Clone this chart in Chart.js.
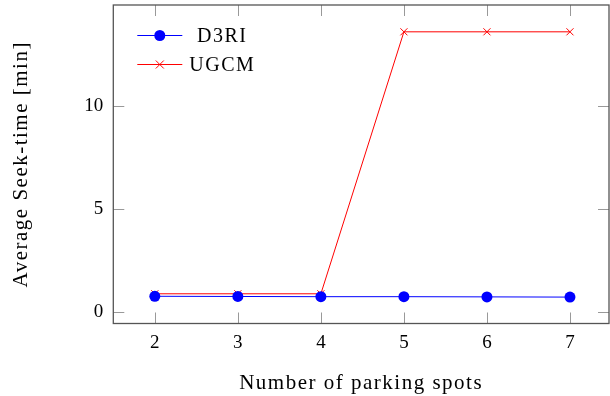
<!DOCTYPE html>
<html>
<head>
<meta charset="utf-8">
<script src="https://cdn.jsdelivr.net/npm/chart.js@4"></script>
<style>
html, body { margin: 0; padding: 0; background: #fff; overflow: hidden; }
#wrap { width: 610px; height: 396px; }
</style>
</head>
<body>
<div id="wrap"><canvas id="seekChart" width="610" height="396"></canvas></div>
<script>
var parkingSpots = [2, 3, 4, 5, 6, 7];
var d3riSeek = [0.78, 0.77, 0.76, 0.76, 0.75, 0.74];
var ugcmSeek = [0.9, 0.9, 0.9, 13.6, 13.6, 13.6];
var xTicks = [2, 3, 4, 5, 6, 7];
var yTicks = [0, 5, 10];
var xTitle = 'Number of parking spots';
var yTitle = 'Average Seek-time [min]';

var serif = "'Liberation Serif', 'DejaVu Serif', serif";

function toPoints(xs, ys) {
    return xs.map(function(x, i) { return { x: x, y: ys[i] }; });
}

// frame with inward ticks on all four sides, like pgfplots
var framePlugin = {
    id: 'frame',
    afterDatasetsDraw: function(chart) {
        var ctx = chart.ctx;
        var a = chart.chartArea;
        var xs = chart.scales.x;
        var ys = chart.scales.y;
        var len = 11;
        ctx.save();
        ctx.strokeStyle = '#999';
        ctx.lineWidth = 1;
        ctx.beginPath();
        xTicks.forEach(function(v) {
            var px = Math.round(xs.getPixelForValue(v)) + 0.5;
            ctx.moveTo(px, a.bottom); ctx.lineTo(px, a.bottom - len);
            ctx.moveTo(px, a.top); ctx.lineTo(px, a.top + len);
        });
        yTicks.forEach(function(v) {
            var py = Math.round(ys.getPixelForValue(v)) + 0.5;
            ctx.moveTo(a.left, py); ctx.lineTo(a.left + len, py);
            ctx.moveTo(a.right, py); ctx.lineTo(a.right - len, py);
        });
        ctx.stroke();
        ctx.strokeStyle = '#555';
        ctx.lineWidth = 1.3;
        ctx.strokeRect(a.left, a.top, a.right - a.left, a.bottom - a.top);
        ctx.restore();
    }
};

// axis titles, slightly letter-spaced to get close to the wider original serif
var titlesPlugin = {
    id: 'axisTitles',
    afterDraw: function(chart) {
        var ctx = chart.ctx;
        var a = chart.chartArea;
        ctx.save();
        ctx.font = '21px ' + serif;
        ctx.letterSpacing = '1.5px';
        ctx.fillStyle = '#000';
        ctx.textAlign = 'center';
        ctx.textBaseline = 'alphabetic';
        ctx.fillText(xTitle, (a.left + a.right) / 2, 389);
        ctx.translate(27, (a.top + a.bottom) / 2);
        ctx.rotate(-Math.PI / 2);
        ctx.fillText(yTitle, 0, 0);
        ctx.restore();
    }
};

// legend inside the plot, top left, text centred in its cell
var legendPlugin = {
    id: 'insideLegend',
    afterDraw: function(chart) {
        var ctx = chart.ctx;
        var a = chart.chartArea;
        var x0 = a.left + 24, x1 = a.left + 69, tx = a.left + 109;
        ctx.save();
        ctx.font = '20px ' + serif;
        ctx.letterSpacing = '1.5px';
        ctx.textAlign = 'center';
        ctx.textBaseline = 'alphabetic';
        chart.data.datasets.forEach(function(ds, i) {
            var y = a.top + 30 + i * 29;
            ctx.strokeStyle = ds.borderColor;
            ctx.lineWidth = 1;
            ctx.beginPath();
            ctx.moveTo(x0, y + 0.5); ctx.lineTo(x1, y + 0.5);
            ctx.stroke();
            var mx = (x0 + x1) / 2;
            if (ds.pointStyle === 'circle') {
                ctx.fillStyle = ds.pointBackgroundColor;
                ctx.beginPath();
                ctx.arc(mx, y + 0.5, ds.pointRadius, 0, Math.PI * 2);
                ctx.fill();
            } else {
                var r = 4;
                ctx.strokeStyle = ds.pointBorderColor;
                ctx.beginPath();
                ctx.moveTo(mx - r, y + 0.5 - r); ctx.lineTo(mx + r, y + 0.5 + r);
                ctx.moveTo(mx - r, y + 0.5 + r); ctx.lineTo(mx + r, y + 0.5 - r);
                ctx.stroke();
            }
            ctx.fillStyle = '#000';
            ctx.fillText(ds.label, tx, y + 7);
        });
        ctx.restore();
    }
};

new Chart(document.getElementById('seekChart'), {
    type: 'line',
    data: {
        datasets: [{
            label: 'D3RI',
            data: toPoints(parkingSpots, d3riSeek),
            borderColor: '#0000ff',
            backgroundColor: '#0000ff',
            borderWidth: 1,
            pointStyle: 'circle',
            pointRadius: 5.5,
            pointBackgroundColor: '#0000ff',
            pointBorderColor: '#0000ff',
            pointBorderWidth: 0,
            tension: 0
        }, {
            label: 'UGCM',
            data: toPoints(parkingSpots, ugcmSeek),
            borderColor: '#ff0000',
            backgroundColor: '#ff0000',
            borderWidth: 1,
            pointStyle: 'crossRot',
            pointRadius: 5,
            pointBorderColor: '#ff0000',
            pointBorderWidth: 1,
            tension: 0
        }]
    },
    options: {
        responsive: false,
        animation: false,
        layout: { autoPadding: false, padding: { top: 5, right: 1, left: 0, bottom: 0 } },
        plugins: { legend: { display: false }, tooltip: { enabled: false } },
        scales: {
            x: {
                type: 'linear',
                min: 1.5,
                max: 7.47,
                afterBuildTicks: function(s) { s.ticks = xTicks.map(function(v) { return { value: v }; }); },
                afterFit: function(s) { s.height = 72.5; s.paddingLeft = 0; s.paddingRight = 0; },
                grid: { display: false, drawTicks: false },
                border: { display: false },
                ticks: { color: '#000', padding: 8, font: { family: serif, size: 19 } }
            },
            y: {
                min: -0.54,
                max: 14.9,
                afterBuildTicks: function(s) { s.ticks = yTicks.map(function(v) { return { value: v }; }); },
                afterFit: function(s) { s.width = 113.3; s.paddingTop = 0; s.paddingBottom = 0; },
                grid: { display: false, drawTicks: false },
                border: { display: false },
                ticks: { color: '#000', padding: 10, font: { family: serif, size: 19 } }
            }
        }
    },
    plugins: [framePlugin, titlesPlugin, legendPlugin]
});
</script>
</body>
</html>
